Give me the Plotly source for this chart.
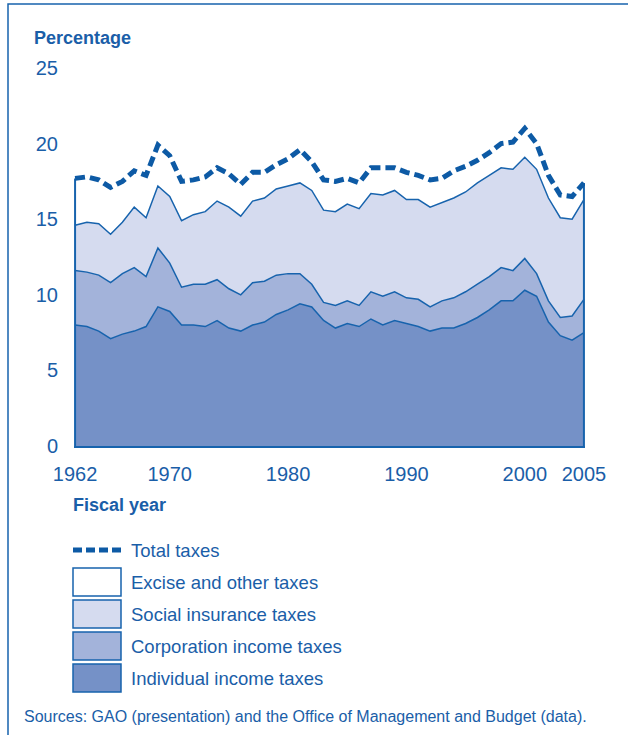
import plotly.graph_objects as go

years = list(range(1962, 2006))

individual = [8.0, 7.9, 7.6, 7.1, 7.4, 7.6, 7.9, 9.2, 8.9, 8.0, 8.0, 7.9, 8.3, 7.8, 7.6,
              8.0, 8.2, 8.7, 9.0, 9.4, 9.2, 8.3, 7.8, 8.1, 7.9, 8.4, 8.0, 8.3, 8.1, 7.9,
              7.6, 7.8, 7.8, 8.1, 8.5, 9.0, 9.6, 9.6, 10.3, 9.9, 8.2, 7.3, 7.0, 7.5]
corporation = [3.6, 3.6, 3.7, 3.7, 4.0, 4.2, 3.3, 3.9, 3.2, 2.5, 2.7, 2.8, 2.7, 2.6, 2.4,
               2.8, 2.7, 2.6, 2.4, 2.0, 1.5, 1.2, 1.5, 1.5, 1.4, 1.8, 1.9, 1.9, 1.7, 1.8,
               1.6, 1.8, 2.0, 2.1, 2.2, 2.2, 2.2, 2.0, 2.1, 1.5, 1.4, 1.2, 1.6, 2.2]
social = [3.0, 3.3, 3.4, 3.2, 3.4, 4.0, 3.9, 4.1, 4.4, 4.4, 4.6, 4.8, 5.2, 5.4, 5.2,
          5.4, 5.5, 5.7, 5.8, 6.0, 6.2, 6.1, 6.2, 6.4, 6.4, 6.5, 6.7, 6.7, 6.5, 6.6,
          6.6, 6.5, 6.6, 6.6, 6.7, 6.7, 6.6, 6.7, 6.7, 6.9, 6.8, 6.6, 6.4, 6.6]
excise = [3.1, 3.0, 2.9, 3.1, 2.7, 2.4, 2.8, 2.7, 2.7, 2.6, 2.3, 2.3, 2.2, 2.2, 2.1,
          1.9, 1.7, 1.6, 1.8, 2.2, 1.9, 2.0, 2.0, 1.7, 1.7, 1.7, 1.8, 1.5, 1.8, 1.6,
          1.8, 1.6, 1.8, 1.7, 1.5, 1.5, 1.6, 1.8, 1.9, 1.7, 1.5, 1.5, 1.5, 1.1]
total = [17.7, 17.8, 17.6, 17.1, 17.5, 18.2, 17.9, 19.9, 19.2, 17.5, 17.6, 17.8, 18.4, 18.0, 17.3,
         18.1, 18.1, 18.6, 19.0, 19.6, 18.8, 17.6, 17.5, 17.7, 17.4, 18.4, 18.4, 18.4, 18.1, 17.9,
         17.6, 17.7, 18.2, 18.5, 18.9, 19.4, 20.0, 20.1, 21.0, 20.0, 17.9, 16.6, 16.5, 17.4]

x_ticks = [1962, 1970, 1980, 1990, 2000, 2005]
y_ticks = [0, 5, 10, 15, 20, 25]

legend_labels = ["Total taxes", "Excise and other taxes", "Social insurance taxes",
                 "Corporation income taxes", "Individual income taxes"]

BLUE = "#1763ad"
TEXT = "#1a5ea8"
DASH = "#0d5aa5"
C_IND = "#7591c7"
C_CORP = "#a3b3da"
C_SOC = "#d5dbef"
C_EXC = "#ffffff"

W, H = 628, 735
ML, MR, MT, MB = 74, 43, 68, 289
PW, PH = W - ML - MR, H - MT - MB
FONT = "Liberation Sans, Arial, sans-serif"


def px(xp):
    return (xp - ML) / PW


def py(yp):
    return (H - MB - yp) / PH


fig = go.Figure()
series = [(individual, C_IND, 1.5), (corporation, C_CORP, 1.5),
          (social, C_SOC, 1.5), (excise, C_EXC, 0)]
for vals, col, lw in series:
    fig.add_trace(go.Scatter(
        x=years, y=vals, stackgroup="s", mode="lines",
        line=dict(color=BLUE if lw else "rgba(0,0,0,0)", width=lw),
        fillcolor=col, showlegend=False, hoverinfo="skip"))

# edges of the area block
fig.add_trace(go.Scatter(x=[years[0], years[0]], y=[0, total[0]], mode="lines",
                         line=dict(color=BLUE, width=2), showlegend=False, hoverinfo="skip"))
fig.add_trace(go.Scatter(x=[years[-1], years[-1]], y=[0, total[-1]], mode="lines",
                         line=dict(color=BLUE, width=2), showlegend=False, hoverinfo="skip"))

fig.add_trace(go.Scatter(x=years, y=total, mode="lines",
                         line=dict(color=DASH, width=5, dash="10px,5px"),
                         showlegend=False, hoverinfo="skip"))

pad = 0.09
fig.update_xaxes(range=[years[0] - pad, years[-1] + pad], tickvals=x_ticks,
                 ticktext=[str(v) for v in x_ticks], showgrid=False, zeroline=False,
                 showline=True, linecolor=BLUE, linewidth=2,
                 ticks="outside", ticklen=9, tickcolor="rgba(0,0,0,0)",
                 tickfont=dict(family=FONT, size=20, color=TEXT))
fig.update_yaxes(range=[0, 25], tickvals=y_ticks, showgrid=False, zeroline=False,
                 showline=False, ticks="outside", ticklen=11, tickcolor="rgba(0,0,0,0)",
                 tickfont=dict(family=FONT, size=20, color=TEXT))

shapes = []
annotations = []

# outer frame (top and left edges visible)
shapes.append(dict(type="rect", xref="paper", yref="paper",
                   x0=px(8), x1=px(680), y0=py(4), y1=py(780),
                   line=dict(color=BLUE, width=1.5), fillcolor="rgba(0,0,0,0)"))

annotations.append(dict(text="<b>Percentage</b>", x=px(32), y=py(38), xref="paper", yref="paper",
                        xanchor="left", yanchor="middle", showarrow=False,
                        font=dict(family=FONT, size=18, color=TEXT)))
annotations.append(dict(text="<b>Fiscal year</b>", x=px(71), y=py(505), xref="paper", yref="paper",
                        xanchor="left", yanchor="middle", showarrow=False,
                        font=dict(family=FONT, size=18, color=TEXT)))

leg_y = [550, 582, 614, 646, 678]
box_cols = [None, C_EXC, C_SOC, C_CORP, C_IND]
for lab, yy, col in zip(legend_labels, leg_y, box_cols):
    if col is None:
        shapes.append(dict(type="line", xref="paper", yref="paper",
                           x0=px(73), x1=px(121), y0=py(yy), y1=py(yy),
                           line=dict(color=DASH, width=5, dash="9px,4px")))
    else:
        shapes.append(dict(type="rect", xref="paper", yref="paper",
                           x0=px(73), x1=px(121), y0=py(yy - 14), y1=py(yy + 14),
                           line=dict(color=BLUE, width=1.5), fillcolor=col))
    annotations.append(dict(text=lab, x=px(129), y=py(yy), xref="paper", yref="paper",
                            xanchor="left", yanchor="middle", showarrow=False,
                            font=dict(family=FONT, size=18.5, color=TEXT)))

annotations.append(dict(text="Sources: GAO (presentation) and the Office of Management and Budget (data).",
                        x=px(22), y=py(716), xref="paper", yref="paper",
                        xanchor="left", yanchor="middle", showarrow=False,
                        font=dict(family=FONT, size=16, color=TEXT)))

fig.update_layout(width=W, height=H, margin=dict(l=ML, r=MR, t=MT, b=MB, autoexpand=False),
                  paper_bgcolor="white", plot_bgcolor="white",
                  shapes=shapes, annotations=annotations, showlegend=False)

fig.write_html("out.html", config={"displayModeBar": False},
               post_script="document.body.style.margin='0';document.body.style.overflow='hidden';")
